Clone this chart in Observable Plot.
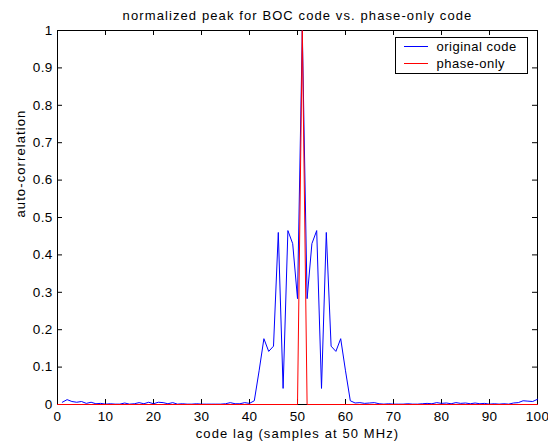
<!DOCTYPE html>
<html><head><meta charset="utf-8">
<script src="https://cdn.jsdelivr.net/npm/d3@7"></script>
<script src="https://cdn.jsdelivr.net/npm/@observablehq/plot@0.6"></script>
<style>
body{margin:0;background:#fff;font-family:"Liberation Sans",Arial,Helvetica,sans-serif;}
#wrap{position:relative;width:548px;height:448px;}
g[aria-label="text"] text{letter-spacing:1.1px;}
g[aria-label="x-axis tick label"] text, g[aria-label="y-axis tick label"] text{letter-spacing:0.3px;}
g.legend text{letter-spacing:0.5px;}
</style></head><body><div id="wrap"></div><script>
// original (BOC) code auto-correlation, lags 1..100
const blueLags = [1,2,3,4,5,6,7,8,9,10,11,12,13,14,15,16,17,18,19,20,21,22,23,24,25,26,27,28,29,30,31,32,33,34,35,36,37,38,39,40,41,42,43,44,45,46,47,48,49,50,51,52,53,54,55,56,57,58,59,60,61,62,63,64,65,66,67,68,69,70,71,72,73,74,75,76,77,78,79,80,81,82,83,84,85,86,87,88,89,90,91,92,93,94,95,96,97,98,99,100];
const blueVals = [0.006,0.013,0.008,0.006,0.008,0.003,0.006,0.002,0.003,0.001,0.002,0.001,0.001,0.004,0.001,0.002,0.005,0.002,0.006,0.002,0.006,0.005,0.002,0.005,0.001,0.002,0.001,0.001,0.002,0.001,0.001,0.001,0.001,0.001,0.002,0.005,0.002,0.002,0.005,0.003,0.01,0.09,0.176,0.142,0.156,0.46,0.043,0.465,0.43,0.283,1,0.283,0.43,0.465,0.043,0.46,0.156,0.142,0.176,0.09,0.01,0.004,0.005,0.003,0.004,0.005,0.002,0.001,0.002,0.001,0.001,0.001,0.002,0.001,0.001,0.002,0.003,0.002,0.005,0.003,0.004,0.002,0.005,0.003,0.004,0.002,0.004,0.002,0.003,0.001,0.002,0.001,0.002,0.001,0.004,0.005,0.01,0.009,0.008,0.014];
// phase-only code: zero except the peak
const redLags = [0,50,51,52,100];
const redVals = [0,0,1,0,0];
const xTicks = [0,10,20,30,40,50,60,70,80,90,100];
const yTicks = [0,0.1,0.2,0.3,0.4,0.5,0.6,0.7,0.8,0.9,1];
const titleText = "normalized peak for BOC code vs. phase-only code";
const xLabel = "code lag (samples at 50 MHz)";
const yLabel = "auto-correlation";
const seriesNames = ["original code","phase-only"];
const seriesColors = ["#0000ff","#ff0000"];

const blue = blueLags.map((x,i)=>({x, y: blueVals[i]}));
const red = redLags.map((x,i)=>({x, y: redVals[i]}));
const H = 448, mt = 30, mb = 44, ml = 57, mr = 11, W = 548;
const fh = H - mt - mb, fw = W - ml - mr;
const fs = 13;

const chart = Plot.plot({
  width: W, height: H,
  marginTop: mt, marginBottom: mb, marginLeft: ml, marginRight: mr,
  style: {fontFamily: '"Liberation Sans", Arial, sans-serif', fontSize: "13.5px", background: "#fff", color: "#000"},
  x: {domain: [0,100]},
  y: {domain: [0,1]},
  marks: [
    Plot.tickX(xTicks, {x: d=>d, stroke: "#000", insetTop: fh - 5}),
    Plot.tickX(xTicks, {x: d=>d, stroke: "#000", insetBottom: fh - 5}),
    Plot.tickY(yTicks, {y: d=>d, stroke: "#000", insetRight: fw - 5}),
    Plot.tickY(yTicks, {y: d=>d, stroke: "#000", insetLeft: fw - 5}),
    Plot.frame({stroke: "#000"}),
    Plot.line(blue, {x: "x", y: "y", stroke: seriesColors[0], strokeWidth: 1}),
    Plot.line(red, {x: "x", y: "y", stroke: seriesColors[1], strokeWidth: 1}),
    Plot.axisX(xTicks, {tickSize: 0, tickPadding: 7, label: null}),
    Plot.axisY(yTicks, {tickSize: 0, tickPadding: 5, label: null, tickFormat: d=>String(d)}),
    Plot.text([titleText], {frameAnchor: "top", dy: -20, fontSize: fs, fill: "#000"}),
    Plot.text([xLabel], {frameAnchor: "bottom", dy: 33, fontSize: fs, fill: "#000"}),
    Plot.text([yLabel], {frameAnchor: "left", dx: -37, rotate: -90, fontSize: fs, fill: "#000"})
  ]
});
const wrap = document.getElementById("wrap");
wrap.appendChild(chart);

// legend box (top-right inside the axes, MATLAB style)
const svg = d3.select(chart);
const lx = 395.5, ly = 37.5, lw = 132, lh = 36;
const lgG = svg.append("g").attr("class", "legend").attr("text-anchor", "start");
lgG.append("rect").attr("x", lx).attr("y", ly).attr("width", lw).attr("height", lh)
  .attr("fill", "#fff").attr("stroke", "#000");
seriesNames.forEach((n,i)=>{
  const yy = ly + 9 + i*17;
  lgG.append("rect").attr("x", lx + 8).attr("y", yy - 0.5).attr("width", 24).attr("height", 1.2)
    .attr("fill", seriesColors[i]).attr("shape-rendering", "crispEdges");
  lgG.append("text").attr("x", lx + 41).attr("y", yy).attr("dy", "0.35em")
    .attr("text-anchor", "start").attr("font-size", 13).attr("fill", "#000").text(n);
});
</script></body></html>
